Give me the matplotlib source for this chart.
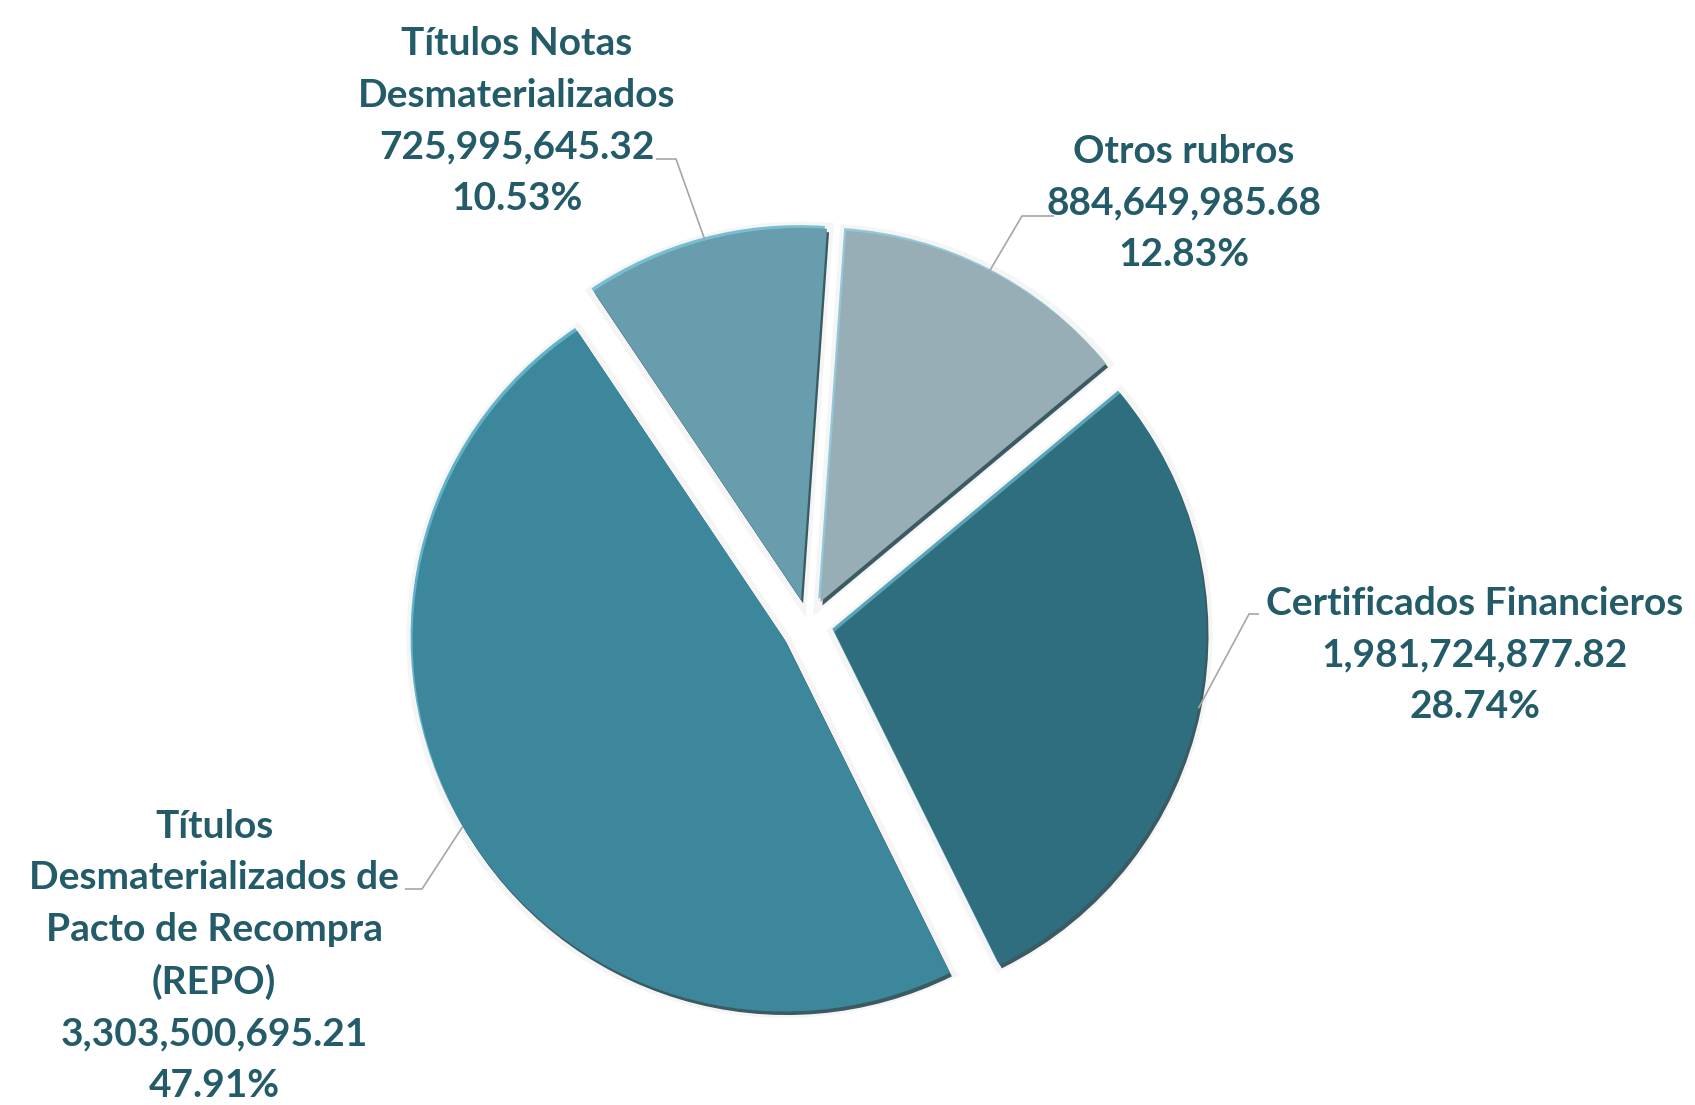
import matplotlib
matplotlib.use("Agg")
import numpy as np
import matplotlib.pyplot as plt
import matplotlib.patheffects as pe
from matplotlib.colors import to_rgb

labels = [
    "Otros rubros",
    "Certificados Financieros",
    "Títulos\nDesmaterializados de\nPacto de Recompra\n(REPO)",
    "Títulos Notas\nDesmaterializados",
]
values = [884649985.68, 1981724877.82, 3303500695.21, 725995645.32]
colors = ["#97aeb7", "#2e6e7e", "#3c879b", "#689dad"]

W, H = 1695, 1105
fig = plt.figure(figsize=(W / 100, H / 100), dpi=100)
ax = fig.add_axes([0, 0, 1, 1])

cx, cy, r = 808, H - 626, 372
# explode is in data units here, since the radius is in pixels
wedges, _ = ax.pie(
    values, colors=colors, startangle=86, counterclock=False,
    explode=[27] * 4, center=(cx, cy), radius=r, frame=True,
    wedgeprops=dict(linewidth=0),
)
ax.set_xlim(0, W)
ax.set_ylim(0, H)
ax.set_aspect("equal")
ax.axis("off")


def lighter(c, amt):
    c = np.array(to_rgb(c))
    return tuple(c + (np.array([0.55, 0.9, 1.0]) - c) * amt)


for w, c in zip(wedges, colors):
    w.set_path_effects([
        pe.Stroke(linewidth=9, foreground="#e9e9e9", alpha=0.45),
        pe.SimplePatchShadow(offset=(-1.5, 2), shadow_rgbFace=lighter(c, 0.45), alpha=1),
        pe.SimplePatchShadow(offset=(1.5, -2.5), shadow_rgbFace="#1b3f48", alpha=0.85),
        pe.Normal(),
    ])

total = sum(values)
text_color = "#235b69"

# label block centre and leader elbow points, in pixel coordinates (y down)
label_pos = [(1184, 203), (1475, 655), (214, 956), (517, 121)]
elbows = [((1054, 216), (1022, 216)),
          ((1259, 614), (1249, 614)),
          ((405, 889), (422, 889)),
          ((656, 159), (676, 159))]

for w, lab, val, (lx, ly), (e0, e1) in zip(wedges, labels, values, label_pos, elbows):
    txt = f"{lab}\n{val:,.2f}\n{val / total * 100:.2f}%"
    ax.text(lx, H - ly, txt, ha="center", va="center", color=text_color,
            fontsize=28, fontweight="bold", family="Lato", linespacing=1.57)
    mid = np.deg2rad((w.theta1 + w.theta2) / 2)
    wx, wy = w.center
    px, py = wx + w.r * np.cos(mid), wy + w.r * np.sin(mid)
    ax.plot([e0[0], e1[0], px], [H - e0[1], H - e1[1], py],
            color="#a6a6a6", lw=1.2, solid_capstyle="butt")

fig.savefig("out.png", dpi=100, facecolor="white")
